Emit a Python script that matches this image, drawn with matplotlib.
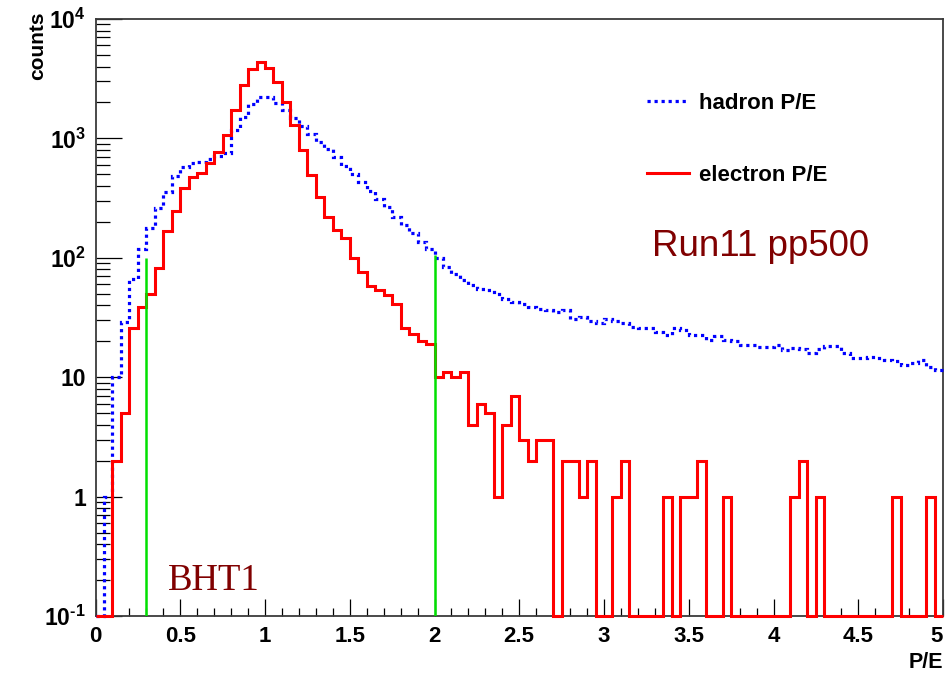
import numpy as np
import matplotlib
matplotlib.use("Agg")
import matplotlib.pyplot as plt
from matplotlib.lines import Line2D
from matplotlib.ticker import FixedLocator, NullFormatter

plt.rcParams['font.family'] = ['Liberation Sans', 'DejaVu Sans']
plt.rcParams['mathtext.fontset'] = 'custom'
plt.rcParams['mathtext.rm'] = 'Liberation Sans:bold'
plt.rcParams['mathtext.default'] = 'rm'

# ---- data: 100 bins of width 0.05 over P/E in [0, 5] ----
x_min, x_max, n_bins = 0.0, 5.0, 100

electron_counts = [
    0, 0, 2, 5, 26, 39, 50, 82, 169, 248,
    382, 478, 510, 626, 774, 1067, 1730, 2800, 3790, 4390,
    3860, 2990, 2030, 1295, 800, 494, 321, 221, 171, 147,
    99, 76, 58, 54, 49, 41, 26, 23, 20, 19,
    10, 11, 10, 11, 4, 6, 5, 1, 4, 7,
    3, 2, 3, 3, 0, 2, 2, 1, 2, 0,
    0, 1, 2, 0, 0, 0, 0, 1, 0, 1,
    1, 2, 0, 0, 1, 0, 0, 0, 0, 0,
    0, 0, 1, 2, 0, 1, 0, 0, 0, 0,
    0, 0, 0, 0, 1, 0, 0, 0, 1, 0,
]

hadron_counts = [
    0, 1, 10, 29, 67, 118, 177, 260, 358, 484,
    580, 618, 638, 668, 712, 750, 1180, 1500, 1950, 2235,
    2235, 1970, 1740, 1470, 1260, 1080, 940, 815, 703, 590,
    500, 430, 360, 310, 265, 220, 190, 160, 135, 118,
    99, 84, 73, 65, 59, 54.5, 53.7, 49.5, 45, 43,
    41, 38.5, 37, 36.5, 35, 36.5, 31, 32, 29.7, 28.3,
    31, 29.7, 28.3, 26.5, 26, 26, 24, 22.6, 25.7, 24.8,
    22.6, 22.6, 20.5, 22.1, 20.5, 20.2, 18.6, 18.6, 17.8, 18,
    18.6, 16.9, 17.5, 17.3, 16, 17.2, 18.4, 18.4, 15.9, 14.4,
    14.4, 14.9, 14.4, 13.9, 13.7, 12.6, 13.1, 13.9, 12.2, 11.5,
]

cut_positions = [0.3, 2.0]
cut_heights = [100, 105]

x_tick_values = [0, 0.5, 1, 1.5, 2, 2.5, 3, 3.5, 4, 4.5, 5]
x_tick_labels = ['0', '0.5', '1', '1.5', '2', '2.5', '3', '3.5', '4', '4.5', '5']
y_tick_values = [0.1, 1, 10, 100, 1000, 10000]
y_tick_labels = ['10$^{\u2010' + '1}$', '1', '10', '10$^{2}$', '10$^{3}$', '10$^{4}$']

y_min, y_max = 0.1, 1e4

# ---- figure ----
W, H = 947, 673
fig = plt.figure(figsize=(W / 100, H / 100), dpi=100)
ax = fig.add_axes([95.5 / W, 1 - 616 / H, (943 - 95.5) / W, (616 - 19) / H])

edges = np.linspace(x_min, x_max, n_bins + 1)
el = np.asarray(electron_counts, float)
ha = np.asarray(hadron_counts, float)
# empty bins are drawn on the lower frame edge, as in the original
el_draw = np.where(el > 0, el, y_min)
ha_draw = np.where(ha > 0, ha, y_min)

ax.set_yscale('log')
ax.set_xlim(x_min, x_max)
ax.set_ylim(y_min, y_max)

dot_style = (0, (1.0, 1.2))
ax.stairs(ha_draw, edges, baseline=None, color='#0000ff', lw=2.3,
          linestyle=dot_style, clip_on=False, zorder=3)
ax.stairs(el_draw, edges, baseline=None, color='#ff0000', lw=2.2,
          clip_on=False, zorder=4)
ax.vlines(cut_positions, y_min, cut_heights, color='#00e000', lw=1.8, zorder=5)

# axes styling (ROOT-like)
for s in ax.spines.values():
    s.set_color('#3a3a3a')
    s.set_linewidth(1.3)

ax.xaxis.set_major_locator(FixedLocator(x_tick_values))
ax.set_xticklabels(x_tick_labels)
ax.xaxis.set_minor_locator(FixedLocator(np.round(np.arange(0, 5.0001, 0.1), 3)))
ax.yaxis.set_major_locator(FixedLocator(y_tick_values))
ax.set_yticklabels(y_tick_labels)
minor_y = [m * 10.0 ** d for d in range(-1, 4) for m in range(2, 10)]
ax.yaxis.set_minor_locator(FixedLocator(minor_y))
ax.yaxis.set_minor_formatter(NullFormatter())

ax.tick_params(axis='x', which='major', direction='in', length=12, width=0.9,
               pad=7, labelsize=16, top=False)
ax.tick_params(axis='x', which='minor', direction='in', length=6, width=0.9, top=False)
ax.tick_params(axis='y', which='major', direction='in', length=19, width=0.9,
               pad=7, labelsize=16.5, right=False)
ax.tick_params(axis='y', which='minor', direction='in', length=10, width=0.9, right=False)
for lab in ax.get_xticklabels() + ax.get_yticklabels():
    lab.set_fontweight('bold')
# keep the last x label inside the canvas
ax.get_xticklabels()[-1].set_horizontalalignment('right')

# axis titles
fig.text(943 / W, 1 - 668 / H, 'P/E', ha='right', va='baseline',
         fontsize=15.5, fontweight='bold')
fig.text(28 / W, 1 - 12 / H, 'counts', ha='left', va='top', rotation=90,
         fontsize=15, fontweight='bold')

# legend
handles = [Line2D([], [], color='#0000ff', lw=2.3, linestyle=dot_style),
           Line2D([], [], color='#ff0000', lw=2.2)]
fig.legend(handles, ['hadron P/E', 'electron P/E'], loc='upper left',
           bbox_to_anchor=(647 / W, 1 - 93 / H), frameon=False,
           borderpad=0, borderaxespad=0, handlelength=1.9,
           handletextpad=0.45, labelspacing=2.3,
           prop={'family': 'Liberation Sans', 'weight': 'bold', 'size': 16})

fig.text(652 / W, 1 - 256 / H, 'Run11 pp500', ha='left', va='baseline',
         fontsize=26.5, color='#800000', family='Liberation Sans')
fig.text(168 / W, 1 - 590 / H, 'BHT1', ha='left', va='baseline',
         fontsize=26.5, color='#800000', family='Liberation Serif')

fig.savefig('out.png', dpi=100)
